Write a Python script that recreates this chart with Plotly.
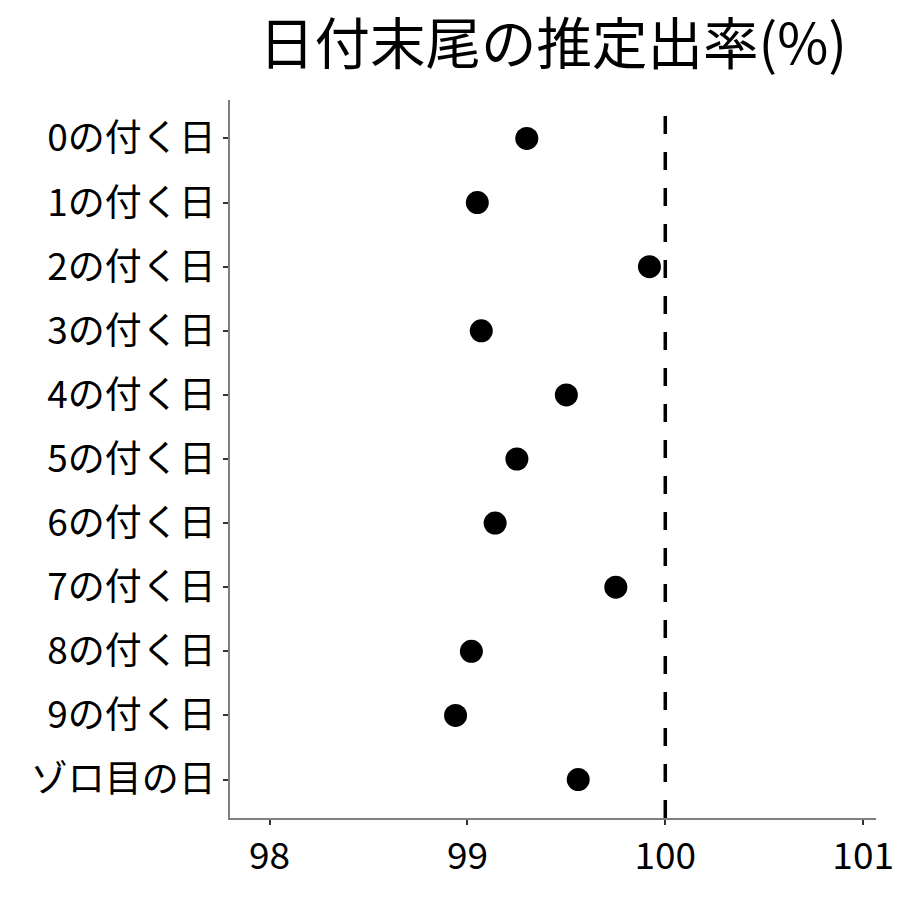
import plotly.graph_objects as go

categories = ["0の付く日", "1の付く日", "2の付く日", "3の付く日", "4の付く日",
              "5の付く日", "6の付く日", "7の付く日", "8の付く日", "9の付く日", "ゾロ目の日"]
rates = [99.30, 99.05, 99.92, 99.07, 99.50, 99.25, 99.14, 99.75, 99.02, 98.94, 99.56]
x_ticks = [98, 99, 100, 101]
ref_value = 100

FONT = "Noto Sans CJK JP"

fig = go.Figure()
fig.add_trace(go.Scatter(
    x=rates, y=categories, mode="markers",
    marker=dict(size=23, color="black"),
    showlegend=False,
))
fig.add_shape(type="line", xref="x", yref="y domain", x0=ref_value, x1=ref_value,
              y0=0, y1=1, line=dict(color="black", width=3.5, dash="18px,18px"), layer="below")

fig.update_layout(
    width=900, height=900,
    paper_bgcolor="white", plot_bgcolor="white",
    margin=dict(l=230, r=24, t=100, b=82, autoexpand=False),
    font=dict(family=FONT, color="black"),
    title=dict(text="日付末尾の推定出率(%)", x=0.5, xanchor="center", xref="paper",
               y=0.95, yanchor="middle", font=dict(size=55.5, family=FONT, color="black"),
               automargin=False),
)
fig.update_xaxes(range=[97.8, 101.065], tickvals=x_ticks, ticktext=[str(v) for v in x_ticks],
                 showgrid=False, zeroline=False, showline=True, linecolor="#7f7f7f", linewidth=1.5,
                 ticks="outside", ticklen=5, tickwidth=2, tickcolor="#333333", automargin=False,
                 tickfont=dict(size=37, family=FONT, color="black"))
fig.update_yaxes(type="category", categoryorder="array", categoryarray=categories,
                 range=[10.6, -0.6], showgrid=False, zeroline=False, showline=True,
                 linecolor="#7f7f7f", linewidth=1.5, automargin=False,
                 ticks="outside", ticklen=5, tickwidth=2, tickcolor="#333333",
                 tickfont=dict(size=37, family=FONT, color="black"))

fig.write_html("out.html", config={"displayModeBar": False},
               post_script="document.body.style.margin='0';document.body.style.overflow='hidden';")
